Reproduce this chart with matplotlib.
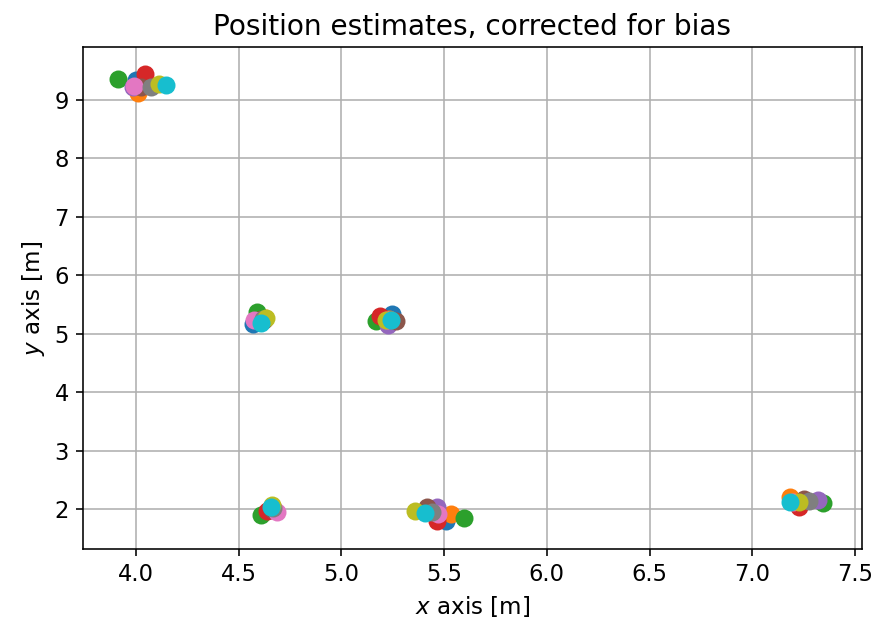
import numpy as np
import matplotlib
matplotlib.use("Agg")
import matplotlib.pyplot as plt

# clusters: top-left, (4.6,5.25), (5.22,5.25), (4.64,1.95), (5.45,1.9), (7.25,2.12)
x_est = [
    [4.00, 4.57, 5.245, 4.65, 5.51, 7.24],
    [4.01, 4.63, 5.23, 4.66, 5.535, 7.185],
    [3.915, 4.59, 5.17, 4.61, 5.595, 7.345],
    [4.045, 4.60, 5.19, 4.64, 5.465, 7.225],
    [3.985, 4.61, 5.225, 4.67, 5.465, 7.32],
    [4.025, 4.625, 5.265, 4.66, 5.415, 7.25],
    [3.99, 4.575, 5.22, 4.685, 5.47, 7.20],
    [4.075, 4.62, 5.24, 4.665, 5.44, 7.275],
    [4.11, 4.635, 5.215, 4.66, 5.36, 7.225],
    [4.145, 4.61, 5.24, 4.655, 5.405, 7.185],
]
y_est = [
    [9.35, 5.17, 5.33, 1.98, 1.80, 2.12],
    [9.12, 5.27, 5.26, 2.02, 1.92, 2.21],
    [9.36, 5.37, 5.22, 1.89, 1.84, 2.10],
    [9.44, 5.24, 5.31, 1.97, 1.79, 2.04],
    [9.23, 5.22, 5.15, 1.99, 2.03, 2.15],
    [9.23, 5.24, 5.21, 2.00, 2.03, 2.17],
    [9.24, 5.24, 5.24, 1.95, 1.91, 2.12],
    [9.23, 5.25, 5.23, 2.02, 1.95, 2.13],
    [9.27, 5.27, 5.24, 2.06, 1.96, 2.12],
    [9.26, 5.19, 5.23, 2.03, 1.93, 2.12],
]

fig = plt.figure(figsize=(876 / 144, 627 / 144), dpi=144)
ax = fig.add_axes([0.0947, 0.1244, 0.8893, 0.8006])

for xs, ys in zip(x_est, y_est):
    ax.plot(xs, ys, "o", markersize=8)

ax.set_xlim(3.742, 7.534)
ax.set_ylim(1.315, 9.907)
ax.set_xticks(np.arange(4.0, 7.51, 0.5))
ax.set_yticks(np.arange(2, 10, 1))
ax.tick_params(labelsize=11.3)
ax.grid(True)
ax.set_axisbelow(True)
ax.set_title("Position estimates, corrected for bias", fontsize=14)
ax.set_xlabel("$x$ axis [m]", fontsize=11.5)
ax.set_ylabel("$y$ axis [m]", fontsize=11.5)

fig.savefig("out.png", dpi=144)
